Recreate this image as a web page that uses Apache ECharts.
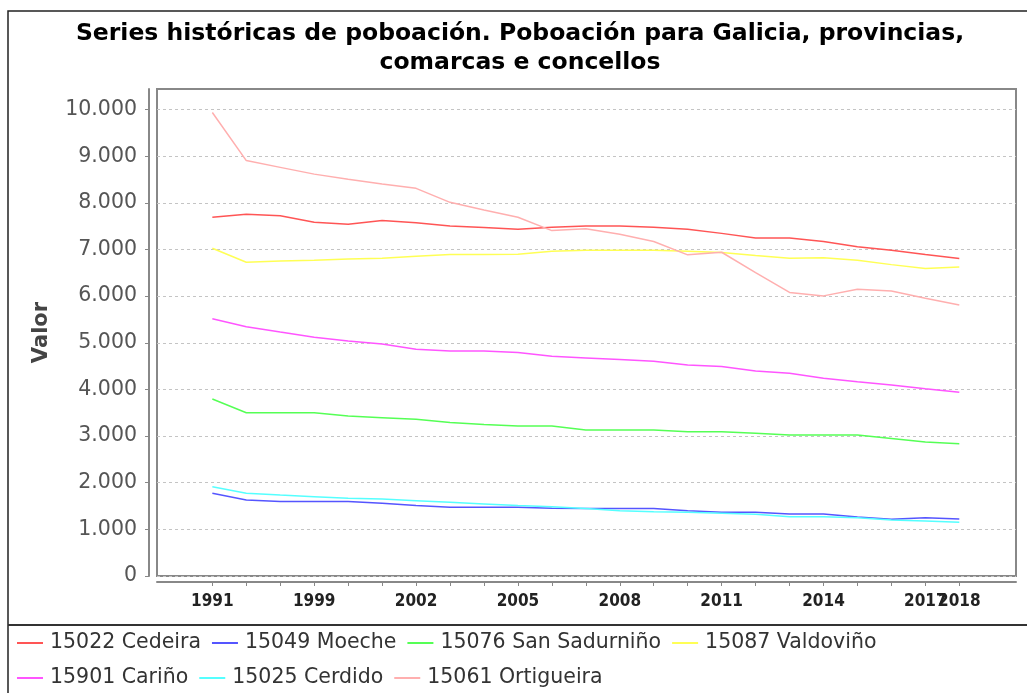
<!DOCTYPE html>
<html>
<head>
<meta charset="utf-8">
<script src="https://cdn.jsdelivr.net/npm/echarts@6/dist/echarts.min.js"></script>
<style>
  html, body { margin: 0; padding: 0; background: #fff; }
  #chart { width: 1027px; height: 693px; }
</style>
</head>
<body>
<div id="chart"></div>
<script>
// anos (eixo de categorías)
const years = ['1991', '1996', '1998', '1999', '2000', '2001', '2002', '2003', '2004', '2005', '2006', '2007',
  '2008', '2009', '2010', '2011', '2012', '2013', '2014', '2015', '2016', '2017', '2018'];

const seriesNames = ['15022 Cedeira', '15049 Moeche', '15076 San Sadurniño', '15087 Valdoviño',
  '15901 Cariño', '15025 Cerdido', '15061 Ortigueira'];

const cedeira = [7690, 7755, 7725, 7585, 7540, 7620, 7575, 7505, 7470, 7435, 7475, 7505,
  7505, 7475, 7435, 7345, 7245, 7245, 7170, 7060, 6985, 6890, 6805];
const moeche = [1775, 1630, 1595, 1595, 1595, 1560, 1510, 1475, 1475, 1475, 1450, 1445,
  1445, 1445, 1400, 1365, 1365, 1330, 1330, 1265, 1215, 1250, 1220];
const sanSadurnino = [3795, 3500, 3500, 3500, 3430, 3395, 3360, 3290, 3250, 3215, 3215, 3130,
  3130, 3130, 3095, 3095, 3060, 3025, 3025, 3025, 2950, 2875, 2835];
const valdovino = [7025, 6725, 6755, 6770, 6795, 6810, 6855, 6890, 6890, 6895, 6960, 6985,
  6985, 6985, 6960, 6935, 6870, 6810, 6820, 6770, 6675, 6590, 6625];
const carino = [5515, 5345, 5230, 5120, 5040, 4975, 4860, 4825, 4825, 4790, 4710, 4675,
  4640, 4605, 4525, 4490, 4395, 4345, 4240, 4165, 4095, 4015, 3940];
const cerdido = [1915, 1775, 1735, 1700, 1665, 1650, 1615, 1580, 1545, 1510, 1485, 1445,
  1400, 1380, 1365, 1345, 1325, 1270, 1270, 1250, 1200, 1180, 1150];
const ortigueira = [9935, 8905, 8760, 8615, 8505, 8405, 8310, 8010, 7845, 7690, 7405, 7445,
  7325, 7170, 6885, 6940, 6505, 6080, 6005, 6145, 6110, 5955, 5810];

const yTicks = [0, 1000, 2000, 3000, 4000, 5000, 6000, 7000, 8000, 9000, 10000];
// etiquetas do eixo X: cada 3 anos, e o último á parte (solápase con 2017)
const xLabelIdx = [0, 3, 6, 9, 12, 15, 18, 21];
const xLastIdx = [22];

const colors = ['#ff5555', '#5555ff', '#55ff55', '#ffff55', '#ff55ff', '#55ffff', '#ffafaf'];
const values = [cedeira, moeche, sanSadurnino, valdovino, carino, cerdido, ortigueira];

const fmt = v => String(v).replace(/\B(?=(\d{3})+(?!\d))/g, '.');

const xLabelStyle = {
  formatter: v => years[v],
  hideOverlap: false,
  margin: 11,
  fontFamily: 'DejaVu Sans Condensed',
  fontWeight: 'bold',
  fontSize: 17,
  color: '#222'
};

const chart = echarts.init(document.getElementById('chart'));

chart.setOption({
  animation: false,
  backgroundColor: '#fff',
  color: colors,
  title: {
    text: 'Series históricas de poboación. Poboación para Galicia, provincias,\ncomarcas e concellos',
    left: 520,
    textAlign: 'center',
    top: 19,
    padding: 0,
    textStyle: {
      fontFamily: 'DejaVu Sans',
      fontSize: 23.5,
      fontWeight: 'bold',
      color: '#000',
      lineHeight: 29
    }
  },
  graphic: [
    {
      type: 'rect',
      shape: { x: 8, y: 11, width: 1040, height: 700 },
      style: { fill: null, stroke: '#222', lineWidth: 1.5 },
      silent: true
    },
    {
      type: 'line',
      shape: { x1: 8, y1: 625, x2: 1027, y2: 625 },
      style: { stroke: '#333', lineWidth: 2 },
      silent: true
    }
  ],
  legend: {
    left: 12,
    top: 626,
    icon: 'rect',
    itemWidth: 26,
    itemHeight: 2,
    itemGap: 11,
    data: seriesNames.slice(0, 4).concat([''], seriesNames.slice(4)),
    textStyle: {
      fontFamily: 'DejaVu Sans',
      fontSize: 20.5,
      color: '#333',
      lineHeight: 24,
      padding: [0, 0, 0, 2]
    }
  },
  grid: {
    left: 157,
    top: 89,
    right: 11,
    bottom: 117,
    show: true,
    borderColor: '#888',
    borderWidth: 2
  },
  xAxis: [
    {
      type: 'value',
      min: -1.63,
      max: 23.67,
      offset: 6,
      axisLine: { show: true, onZero: false, lineStyle: { color: '#888', width: 2 } },
      axisTick: {
        show: true,
        length: 4,
        customValues: years.map((y, i) => i),
        lineStyle: { color: '#888' }
      },
      splitLine: { show: false },
      axisLabel: Object.assign({ customValues: xLabelIdx }, xLabelStyle)
    },
    {
      type: 'value',
      position: 'bottom',
      min: -1.63,
      max: 23.67,
      offset: 6,
      axisLine: { show: false, onZero: false },
      axisTick: { show: false },
      splitLine: { show: false },
      axisLabel: Object.assign({ customValues: xLastIdx }, xLabelStyle)
    }
  ],
  yAxis: {
    type: 'value',
    min: 0,
    max: 10440,
    offset: 8,
    name: 'Valor',
    nameLocation: 'middle',
    nameGap: 97,
    nameTextStyle: {
      fontFamily: 'DejaVu Sans',
      fontSize: 21,
      fontWeight: 'bold',
      color: '#444'
    },
    axisLine: { show: true, onZero: false, lineStyle: { color: '#888', width: 2 } },
    axisTick: {
      show: true,
      length: 4,
      customValues: yTicks,
      lineStyle: { color: '#888' }
    },
    splitLine: {
      show: true,
      lineStyle: { color: '#c4c4c4', type: [3, 3], width: 1 }
    },
    axisLabel: {
      customValues: yTicks,
      formatter: v => fmt(v),
      margin: 12,
      fontFamily: 'DejaVu Sans',
      fontSize: 20.5,
      color: '#555'
    }
  },
  series: seriesNames.map((name, k) => ({
    name: name,
    type: 'line',
    showSymbol: false,
    symbol: 'none',
    lineStyle: { width: 1.5, color: colors[k] },
    data: years.map((y, i) => [i, values[k][i]])
  }))
});
</script>
</body>
</html>
